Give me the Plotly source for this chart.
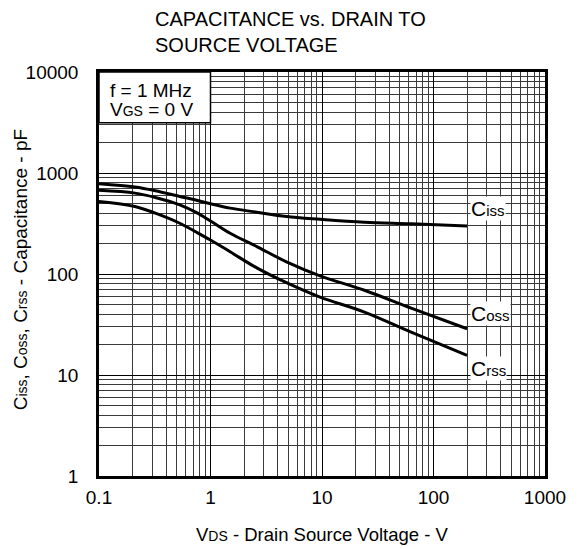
import numpy as np
import plotly.graph_objects as go

# ---- data ----
vds = [0.1, 0.21, 0.32, 0.53, 0.75, 1.0, 1.5, 2.6, 4.8, 9.6, 24, 63, 200]
ciss = [783, 726, 667, 586, 538, 496, 449, 409, 371, 348, 325, 314, 299]
coss = [673, 632, 573, 484, 405, 335, 253, 187, 132, 96, 69, 46, 28.7]
crss = [523, 466, 400, 318, 259, 217, 166, 115, 82, 59, 42, 26.6, 15.6]

x_ticks = [0.1, 1, 10, 100, 1000]
x_tick_text = ["0.1", "1", "10", "100", "1000"]
y_ticks = [1, 10, 100, 1000, 10000]
y_tick_text = ["1", "10", "100", "1000", "10000"]

label_y = {"Ciss": 450, "Coss": 41, "Crss": 11.5}

FONT = "Liberation Sans, Arial, sans-serif"

fig = go.Figure()
for name, vals in [("Ciss", ciss), ("Coss", coss), ("Crss", crss)]:
    fig.add_trace(go.Scatter(x=vds, y=vals, mode="lines", name=name,
                             line=dict(color="black", width=3, shape="spline", smoothing=1.0),
                             showlegend=False))

axis_common = dict(
    type="log", showline=True, linecolor="black", linewidth=2.5, mirror=True,
    ticks="", showgrid=True, gridcolor="black", gridwidth=1.4, zeroline=False,
    tickfont=dict(family=FONT, size=19, color="black"),
    minor=dict(dtick="D1", showgrid=True, gridcolor="#3a3a3a", gridwidth=1, ticks=""),
)
fig.update_xaxes(range=[-1, 3], tickvals=x_ticks, ticktext=x_tick_text,
                 ticklabelstandoff=2, **axis_common)
fig.update_yaxes(range=[0, 4], tickvals=y_ticks, ticktext=y_tick_text,
                 ticklabelstandoff=14, **axis_common)

sm = "<span style='font-size:15px'>{}</span>"
annotations = []
for name in ["Ciss", "Coss", "Crss"]:
    annotations.append(dict(
        x=np.log10(200), y=np.log10(label_y[name]), xref="x", yref="y",
        text="C" + sm.format(name[1:]), showarrow=False, xanchor="left", yanchor="middle",
        xshift=3, bgcolor="white", borderpad=0,
        font=dict(family=FONT, size=21, color="black")))

# title (two lines)
annotations.append(dict(x=0.12, y=1.13, xref="paper", yref="paper", xanchor="left", yanchor="middle",
                        text="CAPACITANCE vs. DRAIN TO", showarrow=False,
                        font=dict(family=FONT, size=20, color="black")))
annotations.append(dict(x=0.12, y=1.068, xref="paper", yref="paper", xanchor="left", yanchor="middle",
                        text="SOURCE VOLTAGE", showarrow=False,
                        font=dict(family=FONT, size=20, color="black")))
# axis titles
s14 = "<span style='font-size:14px'>{}</span>"
annotations.append(dict(x=0.5, y=-0.146, xref="paper", yref="paper", xanchor="center", yanchor="middle",
                        text="V" + s14.format("DS") + " - Drain Source Voltage - V", showarrow=False,
                        font=dict(family=FONT, size=18.5, color="black")))
annotations.append(dict(x=-0.174, y=0.51, xref="paper", yref="paper", xanchor="center", yanchor="middle",
                        textangle=-90,
                        text="C" + s14.format("iss") + ", C" + s14.format("oss") + ", C" + s14.format("rss")
                        + " - Capacitance - pF", showarrow=False,
                        font=dict(family=FONT, size=19, color="black")))
# condition box text
annotations.append(dict(x=0.02, y=0.955, xref="paper", yref="paper", xanchor="left", yanchor="middle",
                        text="f = 1 MHz", showarrow=False,
                        font=dict(family=FONT, size=19, color="black")))
annotations.append(dict(x=0.02, y=0.906, xref="paper", yref="paper", xanchor="left", yanchor="middle",
                        text="V" + s14.format("GS") + " = 0 V", showarrow=False,
                        font=dict(family=FONT, size=19, color="black")))

shapes = [dict(type="rect", xref="paper", yref="paper", x0=0, x1=0.25, y0=0.8745, y1=1,
               fillcolor="white", line=dict(color="black", width=1.5), layer="above")]

# page body has an 8px margin, so the figure is sized/offset to compensate
fig.update_layout(
    width=570, height=541,
    margin=dict(l=91, r=31, t=64, b=73),
    paper_bgcolor="white", plot_bgcolor="white",
    annotations=annotations, shapes=shapes,
    font=dict(family=FONT, color="black"),
)

fig.write_html("out.html")
